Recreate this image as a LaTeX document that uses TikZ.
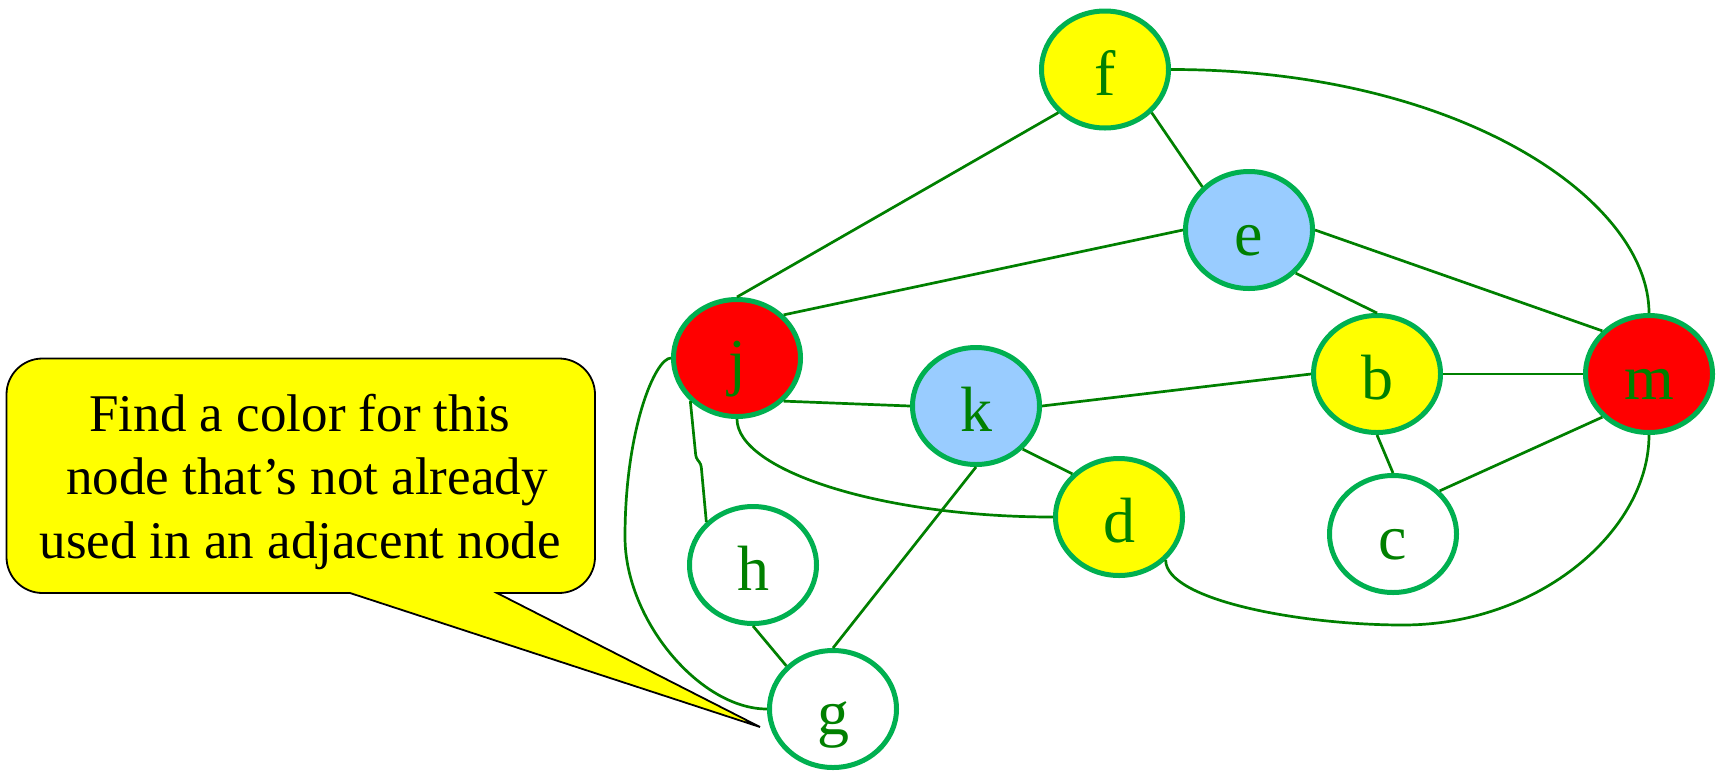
\documentclass[tikz,border=0pt]{standalone}
\usepackage{fontspec}
\setmainfont{Liberation Serif}
\usetikzlibrary{shapes.geometric}
\definecolor{ringgreen}{HTML}{00B050}
\definecolor{linkgreen}{HTML}{008000}
\definecolor{paleblue}{HTML}{99CCFF}
\definecolor{sun}{HTML}{FFFF00}
\definecolor{hot}{HTML}{FF0000}

\begin{document}
\begin{tikzpicture}[x=1pt,y=-1pt,
  vertex/.style={ellipse, draw=ringgreen, line width=5pt,
    minimum width=127pt, minimum height=117pt, inner sep=0pt,
    text=linkgreen, font=\fontsize{64}{64}\selectfont,
    text height=51pt, text depth=0pt},
  link/.style={draw=linkgreen, line width=2.7pt},
  bubbletext/.style={anchor=base, inner sep=0pt, text=black,
    font=\fontsize{53}{63.6}\selectfont}]

% canvas
\useasboundingbox[fill=white] (0,0) rectangle (1719,772);

% callout with its pointer
\draw[fill=sun, draw=black, line width=1.8pt, line join=miter]
  (760,727) -- (497,593) -- (559,593)
  .. controls (578.9,593) and (595,576.9) .. (595,557)
  -- (595,394.5)
  .. controls (595,374.6) and (578.9,358.5) .. (559,358.5)
  -- (42.5,358.5)
  .. controls (22.6,358.5) and (6.5,374.6) .. (6.5,394.5)
  -- (6.5,557)
  .. controls (6.5,576.9) and (22.6,593) .. (42.5,593)
  -- (350,593) -- cycle;
\node[bubbletext] (t1) at (300,431) {Find a color for this};
\node[bubbletext] (t2) at (307,494) {node that’s not already};
\node[bubbletext] (t3) at (300,558) {used in an adjacent node};

% vertices
\node[vertex, fill=sun]       (f) at (1105,69.5) {f};
\node[vertex, fill=paleblue]  (e) at (1249,230)  {e};
\node[vertex, fill=hot]       (j) at (737,358)   {j};
\node[vertex, fill=paleblue]  (k) at (976,406)   {k};
\node[vertex, fill=sun]       (b) at (1377,374)  {b};
\node[vertex, fill=hot]       (m) at (1649,374)  {m};
\node[vertex, fill=sun]       (d) at (1119,517)  {d};
\node[vertex, fill=white]     (c) at (1393,534)  {c};
\node[vertex, fill=white]     (h) at (753,565)   {h};
\node[vertex, fill=white]     (g) at (833,709)   {g};

% straight edges
\draw[link] (j.north) -- (f.south west);
\draw[link] (j.north east) -- (e.west);
\draw[link] (j.south east) -- (k.west);
\draw[link] (f.south east) -- (e.north west);
\draw[link] (e.east) -- (m.north west);
\draw[link] (e.south east) -- (b.north);
\draw[link] (k.east) -- (b.west);
\draw[link] (b.east) -- (m.west);
\draw[link] (b.south) -- (c.north);
\draw[link] (c.north east) -- (m.south west);
\draw[link] (k.south east) -- (d.north west);
\draw[link] (k.south) -- (g.north);
\draw[link] (h.south) -- (g.north west);

% bent and curved edges
\draw[link, rounded corners=3pt]
  (j.south west) -- (696,458) -- (701,464) -- (h.north west);
\draw[link] (j.south) .. controls (737,470) and (880,517) .. (d.west);
\draw[link] (j.west) .. controls (655,358) and (625,430) .. (625,537)
  .. controls (625,620) and (700,709) .. (g.west);
\draw[link] (f.east) .. controls (1460,69.5) and (1649,200) .. (m.north);
\draw[link] (d.south east) .. controls (1166,600) and (1300,625) .. (1403,625)
  .. controls (1540,625) and (1649,530) .. (m.south);

\end{tikzpicture}
\end{document}
